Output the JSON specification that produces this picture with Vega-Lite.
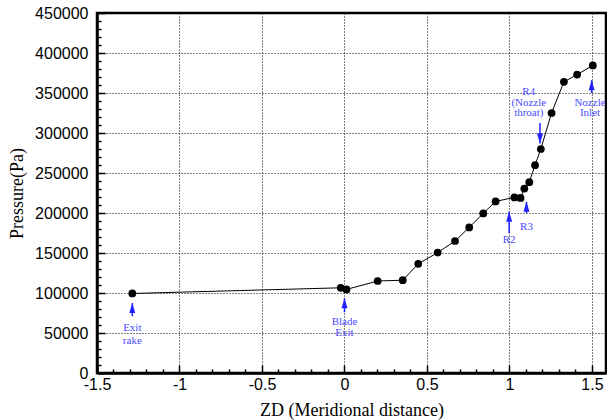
{
  "$schema": "https://vega.github.io/schema/vega-lite/v6.json",
  "width": 509,
  "height": 360,
  "autosize": {"type": "none"},
  "padding": {"left": 97, "top": 13, "right": 1, "bottom": 47},
  "background": "white",
  "config": {"view": {"stroke": "black", "strokeWidth": 2.5}},
  "datasets": {
    "pts": [
      {"x": -1.286, "y": 99400},
      {"x": -0.023, "y": 106500},
      {"x": 0.012, "y": 104500},
      {"x": 0.201, "y": 115000},
      {"x": 0.353, "y": 116000},
      {"x": 0.447, "y": 136500},
      {"x": 0.565, "y": 150500},
      {"x": 0.67, "y": 165000},
      {"x": 0.756, "y": 182000},
      {"x": 0.841, "y": 199500},
      {"x": 0.916, "y": 214500},
      {"x": 1.03, "y": 219500},
      {"x": 1.067, "y": 218800},
      {"x": 1.09, "y": 230500},
      {"x": 1.12, "y": 238500},
      {"x": 1.155, "y": 259800},
      {"x": 1.19, "y": 280000},
      {"x": 1.255, "y": 325000},
      {"x": 1.33, "y": 364000},
      {"x": 1.41, "y": 373000},
      {"x": 1.505, "y": 384500}
    ],
    "arrows": [
      {"x": -1.286, "y": 87500, "y2": 71000, "dir": "up"},
      {"x": 0.0, "y": 93500, "y2": 76000, "dir": "up"},
      {"x": 0.998, "y": 201500, "y2": 175000, "dir": "up"},
      {"x": 1.103, "y": 214000, "y2": 200000, "dir": "up"},
      {"x": 1.185, "y": 287000, "y2": 312500, "dir": "down"},
      {"x": 1.498, "y": 366000, "y2": 350000, "dir": "up"}
    ],
    "notes": [
      {"x": -1.286, "y": 56250, "label": "Exit"},
      {"x": -1.286, "y": 40000, "label": "rake"},
      {"x": 0.0, "y": 63750, "label": "Blade"},
      {"x": 0.0, "y": 50000, "label": "Exit"},
      {"x": 0.998, "y": 166250, "label": "R2"},
      {"x": 1.103, "y": 182000, "label": "R3"},
      {"x": 1.117, "y": 351000, "label": "R4"},
      {"x": 1.117, "y": 338000, "label": "(Nozzle"},
      {"x": 1.117, "y": 324500, "label": "throat)"},
      {"x": 1.488, "y": 338000, "label": "Nozzle"},
      {"x": 1.488, "y": 324500, "label": "Inlet"}
    ]
  },
  "encoding": {
    "x": {
      "field": "x",
      "type": "quantitative",
      "scale": {"domain": [-1.5, 1.585], "nice": false, "zero": false},
      "axis": {
        "values": [-1.5, -1.4, -1.3, -1.2, -1.1, -1.0, -0.9, -0.8, -0.7, -0.6, -0.5, -0.4, -0.3, -0.2, -0.1, 0, 0.1, 0.2, 0.3, 0.4, 0.5, 0.6, 0.7, 0.8, 0.9, 1.0, 1.1, 1.2, 1.3, 1.4, 1.5],
        "title": "ZD (Meridional distance)",
        "titleFont": "Liberation Serif",
        "titleFontSize": 18,
        "titleFontWeight": "normal",
        "titleColor": "black",
        "titlePadding": 5,
        "labelFont": "Liberation Sans",
        "labelFontSize": 16,
        "labelColor": "black",
        "labelExpr": "abs(datum.value*2-round(datum.value*2))<0.001 ? toString(round(datum.value*10)/10) : ''",
        "labelFlush": false,
        "labelOverlap": false,
        "labelPadding": 11,
        "domainColor": "black",
        "domainWidth": 2.5,
        "tickColor": "black",
        "tickWidth": 1.5,
        "tickSize": {"condition": {"test": "abs(datum.value*2-round(datum.value*2))<0.001", "value": -8}, "value": -4},
        "grid": true,
        "gridColor": "black",
        "gridDash": [1, 2],
        "gridWidth": 1,
        "gridOpacity": {"condition": {"test": "abs(datum.value*2-round(datum.value*2))<0.001 && datum.value > -1.4", "value": 1}, "value": 0}
      }
    },
    "y": {
      "field": "y",
      "type": "quantitative",
      "scale": {"domain": [0, 450000], "nice": false},
      "axis": {
        "values": [0, 10000, 20000, 30000, 40000, 50000, 60000, 70000, 80000, 90000, 100000, 110000, 120000, 130000, 140000, 150000, 160000, 170000, 180000, 190000, 200000, 210000, 220000, 230000, 240000, 250000, 260000, 270000, 280000, 290000, 300000, 310000, 320000, 330000, 340000, 350000, 360000, 370000, 380000, 390000, 400000, 410000, 420000, 430000, 440000, 450000],
        "title": "Pressure(Pa)",
        "titleFont": "Liberation Serif",
        "titleFontSize": 18,
        "titleFontWeight": "normal",
        "titleColor": "black",
        "titlePadding": 8,
        "labelFont": "Liberation Sans",
        "labelFontSize": 16,
        "labelColor": "black",
        "labelExpr": "datum.value % 50000 === 0 ? toString(datum.value) : ''",
        "labelFlush": false,
        "labelOverlap": false,
        "labelPadding": 17,
        "domainColor": "black",
        "domainWidth": 2.5,
        "tickColor": "black",
        "tickWidth": 1.5,
        "tickSize": {"condition": {"test": "datum.value % 50000 === 0", "value": -8}, "value": -4},
        "grid": true,
        "gridColor": "black",
        "gridDash": [1, 2],
        "gridWidth": 1,
        "gridOpacity": {"condition": {"test": "datum.value % 50000 === 0 && datum.value > 0 && datum.value < 450000", "value": 1}, "value": 0}
      }
    }
  },
  "layer": [
    {
      "data": {"name": "pts"},
      "mark": {"type": "line", "color": "black", "strokeWidth": 1}
    },
    {
      "data": {"name": "pts"},
      "mark": {"type": "point", "filled": true, "color": "black", "opacity": 1, "size": 60}
    },
    {
      "data": {"name": "arrows"},
      "mark": {"type": "rule", "color": "#2222ff", "strokeWidth": 1.5},
      "encoding": {"y2": {"field": "y2"}}
    },
    {
      "data": {"name": "arrows"},
      "mark": {"type": "point", "filled": true, "color": "#2222ff", "opacity": 1, "size": 100},
      "encoding": {
        "shape": {
          "field": "dir",
          "type": "nominal",
          "scale": {"domain": ["up", "down"], "range": ["M0,0L-0.6,2L0.6,2Z", "M0,0L-0.6,-2L0.6,-2Z"]},
          "legend": null
        }
      }
    },
    {
      "data": {"name": "notes"},
      "mark": {"type": "text", "font": "Liberation Serif", "fontSize": 11, "color": "#4b4bff", "align": "center", "baseline": "middle"},
      "encoding": {"text": {"field": "label"}}
    }
  ]
}
